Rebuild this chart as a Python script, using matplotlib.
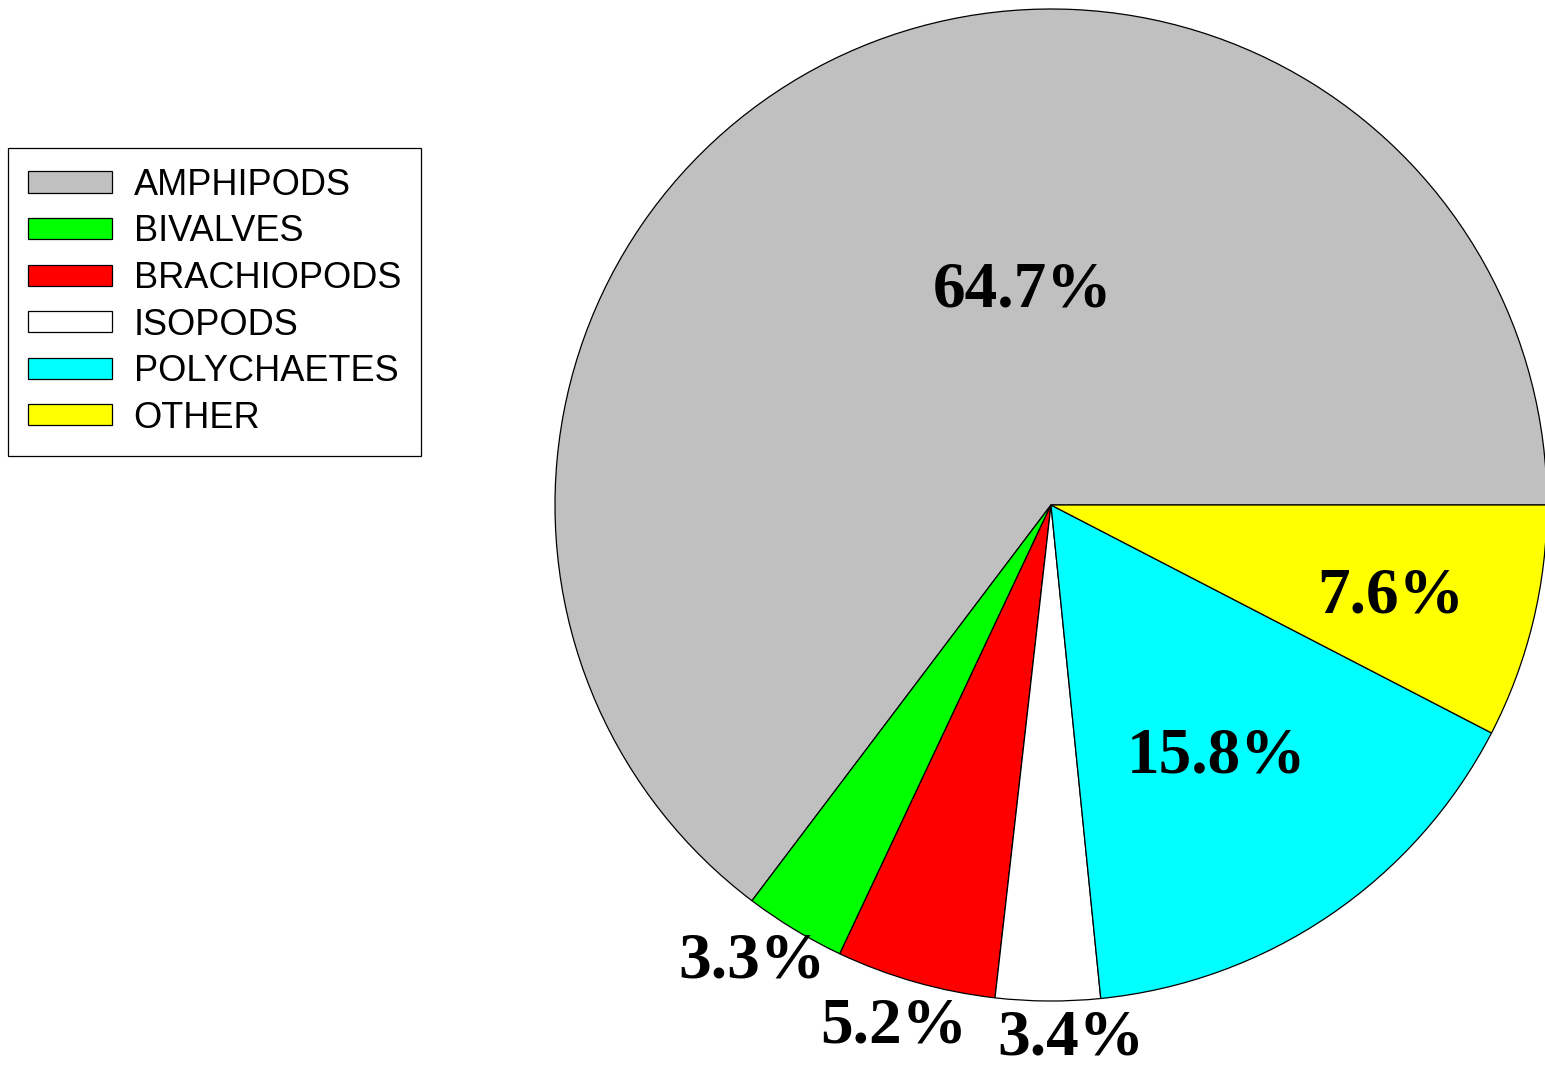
import matplotlib.pyplot as plt

# share of each group in the sample, percent
groups = ['AMPHIPODS', 'BIVALVES', 'BRACHIOPODS', 'ISOPODS', 'POLYCHAETES', 'OTHER']
shares = [64.7, 3.3, 5.2, 3.4, 15.8, 7.6]
colors = ['#C0C0C0', '#00FF00', '#FF0000', '#FFFFFF', '#00FFFF', '#FFFF00']

# where each percent label sits, in units of the pie radius
label_xy = [(-0.058, 0.433), (-0.603, -0.921), (-0.317, -1.052),
            (0.040, -1.076), (0.333, -0.508), (0.685, -0.185)]

fig = plt.figure(figsize=(15.45, 10.68), dpi=100)
ax = fig.add_axes([555 / 1545, 1 - 1001 / 1068, 992 / 1545, 992 / 1068])

wedges, _ = ax.pie(shares, colors=colors, startangle=0, counterclock=True,
                   radius=1.0, wedgeprops={'edgecolor': 'black', 'linewidth': 0.9})
ax.set_xlim(-1, 1)
ax.set_ylim(-1, 1)
ax.set_aspect('equal')
ax.axis('off')

for val, (x, y) in zip(shares, label_xy):
    ax.text(x, y, '{:.1f}%'.format(val), ha='center', va='center',
            fontsize=47, fontweight='bold', family='Liberation Serif', clip_on=False)

leg = fig.legend(wedges, groups, loc='upper left',
                 bbox_to_anchor=(8 / 1545, 1 - 148 / 1068),
                 prop={'family': 'Liberation Sans', 'size': 26},
                 frameon=True, fancybox=False, framealpha=1, edgecolor='black',
                 handlelength=2.33, handleheight=0.53, handletextpad=0.6,
                 labelspacing=0.32, borderpad=0.55, borderaxespad=0)
leg.get_frame().set_linewidth(0.9)

plt.savefig('out.png', dpi=100)
